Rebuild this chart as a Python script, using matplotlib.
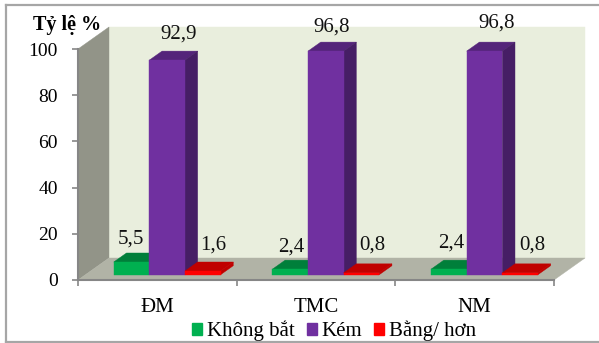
#Bieu do cot gia lap 3D: ty le theo nhom DM, TMC, NM
import matplotlib
matplotlib.use("Agg")
import matplotlib.pyplot as plt
from matplotlib.patches import Polygon, Patch
from matplotlib.lines import Line2D

plt.rcParams['font.family'] = ['Liberation Serif', 'DejaVu Serif']

nhom = ["ĐM", "TMC", "NM"]
khong_bat = [5.5, 2.4, 2.4]
kem = [92.9, 96.8, 96.8]
bang_hon = [1.6, 0.8, 0.8]
nhan_y = [0, 20, 40, 60, 80, 100]

# lech nhan so voi dinh cot (diem anh)
lech_khong_bat = [(-1, 23), (1, 22), (2, 26)]
lech_kem = [(11, 26), (6, 24), (12, 28)]
lech_bang_hon = [(10, 26), (11, 28), (12, 28)]

W, H = 599, 343
fig = plt.figure(figsize=(W / 100, H / 100), dpi=100, facecolor="white")
ax = fig.add_axes([78 / W, (H - 280) / H, 476 / W, 231 / H])
ax.set_xlim(0, 3)
ax.set_ylim(0, 100)
ax.patch.set_visible(False)

# do sau gia lap 3D, theo don vi du lieu
DX = 31 / (476 / 3)
DY = 22 / 2.31
RONG = 35.6 / (476 / 3)
TRUOC, SAU = 0.24, 0.65
DICH = 0.015


def chieu(x, y, d):
    return (x + d * DX, y + d * DY)


def da_giac(diem, mau, z):
    ax.add_patch(Polygon(diem, closed=True, facecolor=mau, edgecolor=mau,
                         linewidth=0.3, clip_on=False, zorder=z))


def ve_cot(x0, gia_tri, mat, tren, ben, z):
    x1 = x0 + RONG
    da_giac([chieu(x0, gia_tri, TRUOC), chieu(x1, gia_tri, TRUOC),
             chieu(x1, gia_tri, SAU), chieu(x0, gia_tri, SAU)], tren, z)
    da_giac([chieu(x1, 0, TRUOC), chieu(x1, gia_tri, TRUOC),
             chieu(x1, gia_tri, SAU), chieu(x1, 0, SAU)], ben, z)
    da_giac([chieu(x0, 0, TRUOC), chieu(x1, 0, TRUOC),
             chieu(x1, gia_tri, TRUOC), chieu(x0, gia_tri, TRUOC)], mat, z)


# tuong sau, tuong trai va san
da_giac([chieu(0, 0, 1), chieu(3, 0, 1), chieu(3, 100, 1), chieu(0, 100, 1)], "#E9EEDD", 1)
da_giac([chieu(0, 0, 0), chieu(0, 0, 1), chieu(0, 100, 1), chieu(0, 100, 0)], "#929488", 1)
da_giac([chieu(0, 0, 0), chieu(3, 0, 0), chieu(3, 0, 1), chieu(0, 0, 1)], "#B1B3A6", 1)

for i in range(len(nhom)):
    tam = i + 0.5 + DICH
    ve_cot(tam - 1.5 * RONG, khong_bat[i], "#00B050", "#007F3A", "#006B31", 3)
    ve_cot(tam - 0.5 * RONG, kem[i], "#7030A0", "#54247A", "#461E65", 4)
    ve_cot(tam + 0.5 * RONG, bang_hon[i], "#FF0000", "#C00000", "#C00000", 5)

    for gia_tri, lech, k in ((khong_bat[i], lech_khong_bat[i], -1),
                             (kem[i], lech_kem[i], 0),
                             (bang_hon[i], lech_bang_hon[i], 1)):
        ax.annotate(f"{gia_tri}".replace(".", ","),
                    xy=chieu(tam + k * RONG, gia_tri, TRUOC), xytext=lech,
                    textcoords="offset pixels", ha="center", va="center",
                    fontsize=15, color="#111111", zorder=6, annotation_clip=False)

# truc
for s in ("top", "right"):
    ax.spines[s].set_visible(False)
for s in ("left", "bottom"):
    ax.spines[s].set_color("#868686")
    ax.spines[s].set_linewidth(1.5)
    ax.spines[s].set_zorder(2)
ax.set_yticks(nhan_y)
ax.tick_params(axis="y", length=4.5, width=1.2, color="#868686", labelsize=14, pad=10)
ax.set_xticks([0, 1, 2, 3])
ax.set_xticklabels([])
ax.tick_params(axis="x", which="major", length=4, width=1.2, color="#868686")
ax.set_xticks([0.5, 1.5, 2.5], minor=True)
ax.set_xticklabels(nhom, minor=True, fontsize=15)
ax.tick_params(axis="x", which="minor", length=0, pad=13)

fig.text(67 / W, 1 - 25 / H, "Tỷ lệ %", fontsize=14.5, fontweight="bold",
         ha="center", va="center", color="black")

chu_giai = ax.legend(
    handles=[Patch(color="#00B050", label="Không bắt"),
             Patch(color="#7030A0", label="Kém"),
             Patch(color="#FF0000", label="Bằng/ hơn")],
    ncol=3, frameon=False, fontsize=15, handlelength=0.48, handleheight=0.48,
    handletextpad=0.22, columnspacing=0.58, borderpad=0, borderaxespad=0,
    loc="center", bbox_to_anchor=(334 / W, 1 - 331 / H),
    bbox_transform=fig.transFigure)
chu_giai.set_zorder(6)

# khung ngoai
for x0, y0, x1, y1 in ((6, 4.5, 599, 4.5), (6, 4.5, 6, 342), (6, 342, 599, 342)):
    fig.add_artist(Line2D([x0 / W, x1 / W], [1 - y0 / H, 1 - y1 / H],
                          color="#A6A6A6", linewidth=1.6))

fig.savefig("out.png", dpi=100)
